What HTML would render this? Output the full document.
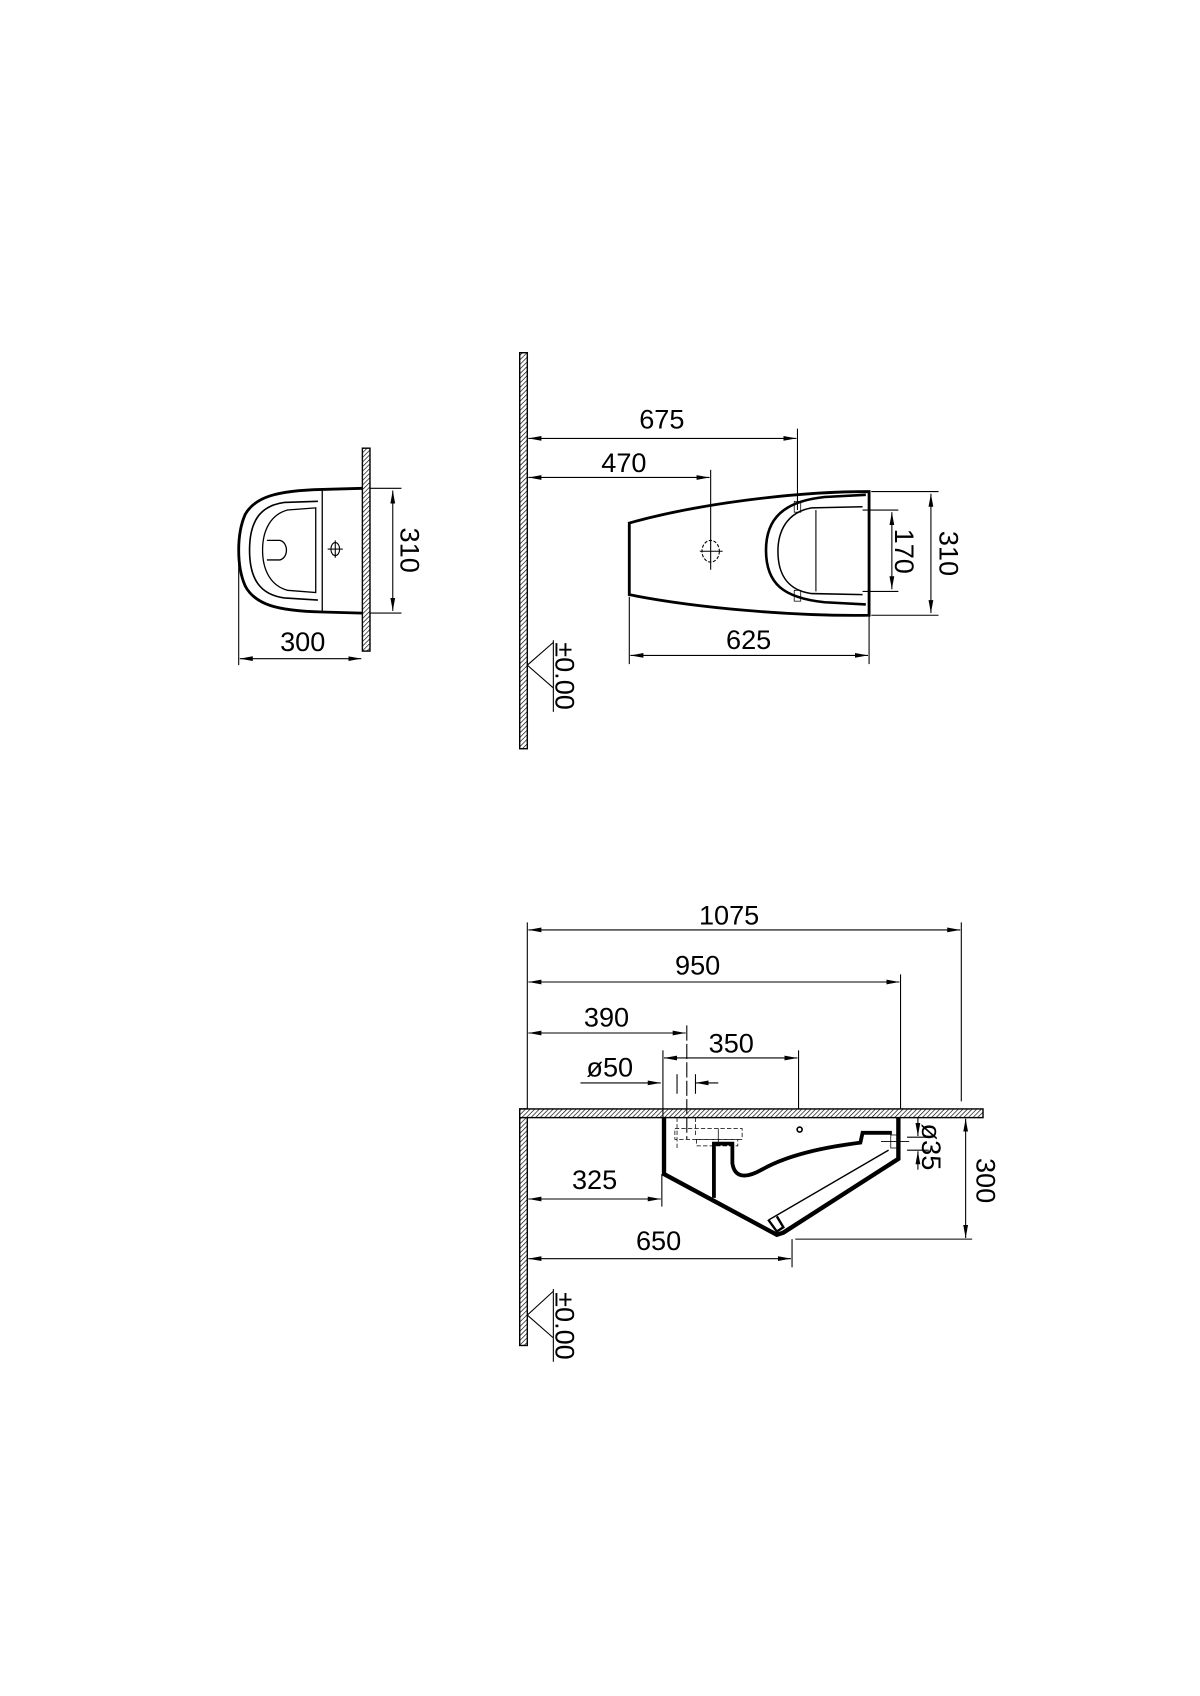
<!DOCTYPE html>
<html><head><meta charset="utf-8"><style>
html,body{margin:0;padding:0;background:#fff;}
svg{display:block;}
text{font-family:"Liberation Sans",sans-serif;font-size:25px;fill:#000;}
</style></head><body>
<svg width="1200" height="1696" viewBox="0 0 1106 1563" xmlns="http://www.w3.org/2000/svg">
<defs>
<pattern id="h" width="3" height="3" patternUnits="userSpaceOnUse" patternTransform="rotate(45)">
<rect width="3" height="3" fill="#fff"/><line x1="0" y1="0" x2="0" y2="3" stroke="#000" stroke-width="1.2"/></pattern>
<marker id="a" viewBox="0 0 12 6" refX="12" refY="3" markerWidth="12" markerHeight="6" markerUnits="userSpaceOnUse" orient="auto-start-reverse">
<path d="M0,0.8 L12,3 L0,5.2 Z" fill="#000"/></marker>
</defs>
<g stroke="#000" fill="none" stroke-width="1">
<!-- TOP LEFT VIEW -->
<rect x="334" y="413" width="7" height="187" fill="url(#h)" stroke-width="1.3"/>
<path d="M334,450 L297,451 C255,452 235,458 226,474 C218,492 218,522 226,540 C235,557 255,563 297,564 L334,565" stroke-width="2.6"/>
<line x1="297" y1="451" x2="297" y2="564" stroke-width="1.2"/>
<path d="M293,462 L262,463 C240,466 230,480 230,507 C230,534 240,548 262,551 L293,553" stroke-width="1.5"/>
<path d="M291,468 L265,470 C250,474 242,488 242,507 C242,526 250,540 265,544 L291,546 Z" stroke-width="1.2"/>
<path d="M246,498 L258,498 C266,500 266,514 258,516 L246,516" stroke-width="1.2"/>
<ellipse cx="309" cy="506" rx="4" ry="6"/><line x1="302" y1="506" x2="316" y2="506"/><line x1="309" y1="498" x2="309" y2="514"/>
<line x1="341" y1="450" x2="370" y2="450"/><line x1="341" y1="565" x2="370" y2="565"/>
<line x1="362" y1="452" x2="362" y2="563" marker-start="url(#a)" marker-end="url(#a)"/>
<line x1="220" y1="515" x2="220" y2="613"/>
<line x1="221" y1="607" x2="333" y2="607" marker-start="url(#a)" marker-end="url(#a)"/>

<!-- MIDDLE VIEW -->
<rect x="479" y="325" width="7" height="365" fill="url(#h)" stroke-width="1.3"/>
<line x1="487" y1="404" x2="734" y2="404" marker-start="url(#a)" marker-end="url(#a)"/>
<line x1="735" y1="395" x2="735" y2="470"/>
<line x1="487" y1="440" x2="654" y2="440" marker-start="url(#a)" marker-end="url(#a)"/>
<line x1="655" y1="433" x2="655" y2="525"/>
<path d="M580,482 L580,548 C640,560 730,568 801,567 L801,453 C730,453 640,465 580,482 Z" stroke-width="2.6"/>
<path d="M798,456 L760,458 C722,462 706,478 706,507 C706,538 722,551 760,555 L798,557" stroke-width="2.4"/>
<path d="M795,467 L748,468 C725,472 717,490 717,508 C717,528 725,544 748,547 L795,548" stroke-width="1.4"/>
<line x1="752" y1="470" x2="752" y2="545" stroke-width="1"/>
<rect x="732" y="462" width="6" height="10" stroke-width="0.7"/><rect x="732" y="544" width="6" height="10" stroke-width="0.7"/>
<ellipse cx="655" cy="508" rx="8" ry="10" stroke-dasharray="3 1.5"/><line x1="645" y1="508" x2="666" y2="508"/>
<line x1="795" y1="470" x2="828" y2="470"/><line x1="795" y1="545" x2="828" y2="545"/>
<line x1="822" y1="472" x2="822" y2="543" marker-start="url(#a)" marker-end="url(#a)"/>
<line x1="803" y1="453" x2="865" y2="453"/><line x1="803" y1="567" x2="865" y2="567"/>
<line x1="858" y1="455" x2="858" y2="565" marker-start="url(#a)" marker-end="url(#a)"/>
<line x1="580" y1="550" x2="580" y2="612"/><line x1="801" y1="567" x2="801" y2="612"/>
<line x1="581" y1="604" x2="800" y2="604" marker-start="url(#a)" marker-end="url(#a)"/>
<path d="M510,592 L486,613 L510,634 M510,590 L510,656"/>

<!-- BOTTOM VIEW -->
<rect x="479" y="1022" width="7" height="218" fill="url(#h)" stroke-width="1.3"/>
<rect x="479" y="1022" width="427" height="8" fill="url(#h)" stroke-width="1.3"/>
<line x1="486" y1="850" x2="486" y2="1022"/>
<line x1="487" y1="857" x2="885" y2="857" marker-start="url(#a)" marker-end="url(#a)"/>
<line x1="886" y1="850" x2="886" y2="1015"/>
<line x1="487" y1="905" x2="829" y2="905" marker-start="url(#a)" marker-end="url(#a)"/>
<line x1="830" y1="898" x2="830" y2="1022"/>
<line x1="487" y1="952" x2="632" y2="952" marker-start="url(#a)" marker-end="url(#a)"/>
<line x1="633" y1="945" x2="633" y2="1050" stroke-dasharray="14 3"/>
<line x1="612" y1="975" x2="735" y2="975" marker-start="url(#a)" marker-end="url(#a)"/>
<line x1="611" y1="968" x2="611" y2="1030"/><line x1="736" y1="968" x2="736" y2="1022"/>
<line x1="535" y1="998" x2="609" y2="998" marker-end="url(#a)"/>
<line x1="662" y1="998" x2="641" y2="998" marker-end="url(#a)"/>
<line x1="624" y1="990" x2="624" y2="1008"/><line x1="641" y1="990" x2="641" y2="1008"/>
<line x1="624" y1="1030" x2="624" y2="1060" stroke-dasharray="4 2" stroke-width="0.7"/><line x1="641" y1="1030" x2="641" y2="1048" stroke-dasharray="4 2" stroke-width="0.7"/>
<rect x="622" y="1040" width="62" height="10" stroke-dasharray="4 2" stroke-width="0.7"/>
<rect x="642" y="1050" width="38" height="6" stroke-dasharray="4 2" stroke-width="0.7"/>
<line x1="662" y1="1040" x2="662" y2="1055" stroke-width="0.7"/>
<path d="M612,1030 L612,1082 L716,1138 L722,1136 L828,1068 L828,1030" stroke-width="4"/>
<path d="M658,1104 L658,1054 L675,1054 L675,1072 C677,1086 688,1086 702,1078 C730,1062 770,1056 793,1053 L795,1044 L822,1044" stroke-width="3.5"/>
<line x1="709" y1="1124" x2="819" y2="1060" stroke-width="1.3"/>
<path d="M708,1124 L716,1135 L722,1131 L716,1121" stroke-width="2.2"/>
<circle cx="737" cy="1041" r="2.3" stroke-width="1.5"/>
<line x1="812" y1="1052" x2="838" y2="1052" stroke-width="0.8"/><rect x="821" y="1046" width="6" height="12" stroke-width="0.7"/>
<line x1="846" y1="1030" x2="846" y2="1047" marker-end="url(#a)"/>
<line x1="846" y1="1078" x2="846" y2="1061" marker-end="url(#a)"/>
<line x1="836" y1="1048" x2="856" y2="1048"/><line x1="836" y1="1060" x2="856" y2="1060"/>
<line x1="610" y1="1082" x2="610" y2="1112"/>
<line x1="487" y1="1105" x2="609" y2="1105" marker-start="url(#a)" marker-end="url(#a)"/>
<line x1="730" y1="1142" x2="730" y2="1168"/>
<line x1="487" y1="1160" x2="729" y2="1160" marker-start="url(#a)" marker-end="url(#a)"/>
<line x1="733" y1="1142" x2="896" y2="1142"/>
<line x1="890" y1="1031" x2="890" y2="1141" marker-start="url(#a)" marker-end="url(#a)"/>
<path d="M510,1190 L486,1212 L510,1233 M510,1188 L510,1255"/>
</g>
<g>
<text x="279" y="600" text-anchor="middle">300</text>
<text transform="translate(369,507) rotate(90)" text-anchor="middle">310</text>
<text x="610" y="395" text-anchor="middle">675</text>
<text x="575" y="435" text-anchor="middle">470</text>
<text x="690" y="598" text-anchor="middle">625</text>
<text transform="translate(825,508) rotate(90)" text-anchor="middle">170</text>
<text transform="translate(866,510) rotate(90)" text-anchor="middle">310</text>
<text transform="translate(512,623) rotate(90)" text-anchor="middle">±0.00</text>
<text x="672" y="852" text-anchor="middle">1075</text>
<text x="643" y="898" text-anchor="middle">950</text>
<text x="559" y="946" text-anchor="middle">390</text>
<text x="674" y="970" text-anchor="middle">350</text>
<text x="562" y="992" text-anchor="middle">ø50</text>
<text transform="translate(850,1057) rotate(90)" text-anchor="middle">ø35</text>
<text transform="translate(900,1088) rotate(90)" text-anchor="middle">300</text>
<text x="548" y="1096" text-anchor="middle">325</text>
<text x="607" y="1152" text-anchor="middle">650</text>
<text transform="translate(512,1222) rotate(90)" text-anchor="middle">±0.00</text>
</g>
</svg>
</body></html>
